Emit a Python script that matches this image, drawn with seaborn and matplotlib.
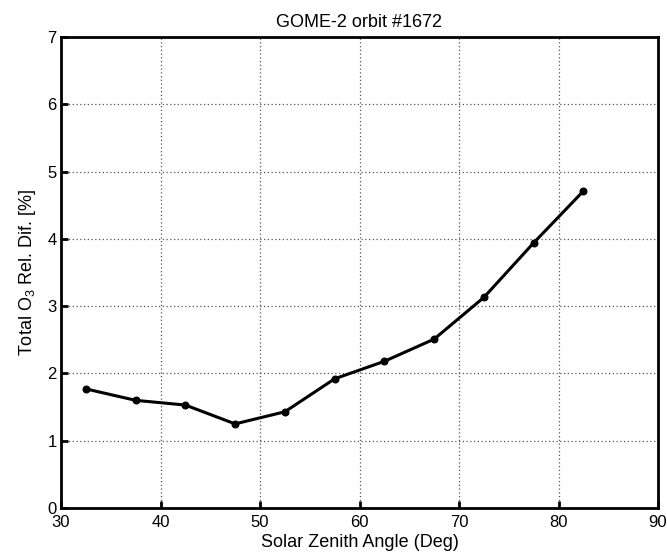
import matplotlib
matplotlib.use("Agg")
import matplotlib.pyplot as plt
import seaborn as sns
import pandas as pd
from matplotlib.ticker import MultipleLocator

sza = [32.5, 37.5, 42.5, 47.5, 52.5, 57.5, 62.5, 67.5, 72.5, 77.5, 82.5]
rel_dif = [1.77, 1.60, 1.53, 1.25, 1.43, 1.92, 2.18, 2.51, 3.13, 3.94, 4.71]

title = "GOME-2 orbit #1672"
xlabel = "Solar Zenith Angle (Deg)"
ylabel = "Total O$_3$ Rel. Dif. [%]"

sns.set_theme(style="white")
plt.rcParams['font.family'] = ['Liberation Sans', 'DejaVu Sans']
plt.rcParams['mathtext.fontset'] = 'custom'
plt.rcParams['mathtext.rm'] = 'Liberation Sans'
plt.rcParams['mathtext.it'] = 'Liberation Sans'

df = pd.DataFrame({"sza": sza, "dif": rel_dif})

fig = plt.figure(figsize=(6.67, 5.53), dpi=100)
ax = fig.add_axes([61/667, 1 - 508/553, (658-61)/667, (508-37)/553])

sns.lineplot(data=df, x="sza", y="dif", ax=ax, color="black", linewidth=2.2,
             marker="o", markersize=5, markeredgecolor="black", zorder=3)

ax.set_xlim(30, 90)
ax.set_ylim(0, 7)
ax.xaxis.set_major_locator(MultipleLocator(10))
ax.yaxis.set_major_locator(MultipleLocator(1))
ax.grid(True, linestyle=(0, (1, 2)), color="#555555", linewidth=0.9)
for s in ax.spines.values():
    s.set_color("black")
    s.set_linewidth(2)
ax.tick_params(direction="in", length=5, width=2, colors="black", labelsize=12,
               bottom=True, left=True, top=False, right=False)
ax.tick_params(axis="x", pad=5)
ax.tick_params(axis="y", pad=3)
ax.set_xlabel(xlabel, fontsize=13, color="black", labelpad=3)
ax.set_ylabel(ylabel, fontsize=13, color="black", labelpad=7)
ax.set_title(title, fontsize=13, color="black", pad=7)

fig.savefig("out.png", dpi=100)
